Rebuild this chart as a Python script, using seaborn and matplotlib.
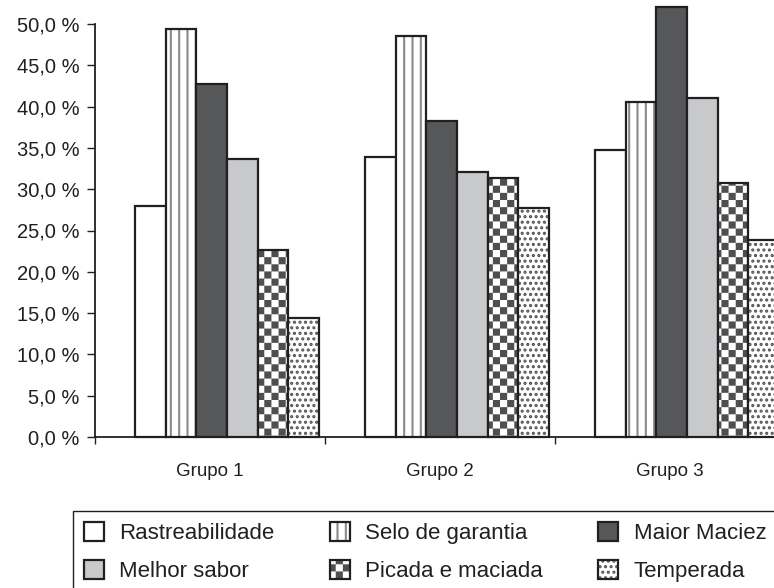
import warnings

import matplotlib
matplotlib.use("Agg")
import matplotlib as mpl
import matplotlib.pyplot as plt
import matplotlib.hatch as mhatch
from matplotlib.colors import to_rgba
from matplotlib.path import Path
from matplotlib.ticker import FixedLocator, FuncFormatter, NullFormatter
import pandas as pd
import seaborn as sns

# ---- data -------------------------------------------------------------
groups = ["Grupo 1", "Grupo 2", "Grupo 3"]
attributes = ["Rastreabilidade", "Selo de garantia", "Maior Maciez",
              "Melhor sabor", "Picada e maciada", "Temperada"]

rastreabilidade = [28.0, 33.9, 34.8]
selo_garantia = [49.4, 48.6, 40.5]
maior_maciez = [42.7, 38.3, 52.0]
melhor_sabor = [33.6, 32.1, 41.0]
picada_maciada = [22.6, 31.4, 30.7]
temperada = [14.4, 27.7, 23.8]

y_ticks = [0, 5, 10, 15, 20, 25, 30, 35, 40, 45, 50]

series = [rastreabilidade, selo_garantia, maior_maciez,
          melhor_sabor, picada_maciada, temperada]
df = pd.DataFrame({
    "grupo": [g for _ in attributes for g in groups],
    "atributo": [a for a in attributes for _ in groups],
    "valor": [v for s in series for v in s],
})

# ---- styling ----------------------------------------------------------
INK = "#231f20"
face_colors = ["#ffffff", "#ffffff", "#555759", "#c8c9cb", "#ffffff", "#ffffff"]
hatches = [None, "||", None, None, "c", "..."]
hatch_colors = [None, "#8a8a8a", None, None, "#4f4f51", "#555555"]

# bar clusters sit slightly right of the category centre
CLUSTER_SHIFT = 0.074


class CheckerHatch(mhatch.HatchPatternBase):
    """Axis-aligned checkerboard, selected with the letter 'c'."""
    cells = 14

    def __init__(self, hatch, density):
        self.active = "c" in hatch
        n = self.cells
        self.num_vertices = (n * n // 2) * 5 if self.active else 0

    def set_vertices_and_codes(self, vertices, codes):
        n = self.cells
        step = 1.0 / n
        inset = mpl.rcParams["hatch.linewidth"] / 144.0
        k = 0
        for i in range(n):
            for j in range(n):
                if (i + j) % 2:
                    continue
                x0, y0 = i * step + inset, j * step + inset
                x1, y1 = (i + 1) * step - inset, (j + 1) * step - inset
                vertices[k:k + 5] = [(x0, y0), (x1, y0), (x1, y1), (x0, y1), (x0, y0)]
                codes[k:k + 5] = [Path.MOVETO, Path.LINETO, Path.LINETO,
                                  Path.LINETO, Path.CLOSEPOLY]
                k += 5


mhatch._hatch_types.append(CheckerHatch)

sns.set_theme(style="white")
plt.rcParams["font.family"] = ["Liberation Sans", "DejaVu Sans"]
plt.rcParams["hatch.linewidth"] = 1.5
plt.rcParams["text.color"] = INK
plt.rcParams["xtick.color"] = INK
plt.rcParams["ytick.color"] = INK
plt.rcParams["axes.edgecolor"] = INK

fig = plt.figure(figsize=(7.74, 5.88), dpi=100)
ax = fig.add_axes([95 / 774, 151 / 588, 690 / 774, 413 / 588])

sns.barplot(data=df, x="grupo", y="valor", hue="atributo",
            order=groups, hue_order=attributes, palette=face_colors,
            saturation=1, width=0.8, edgecolor=INK, linewidth=1.6,
            legend=False, ax=ax)

with warnings.catch_warnings():
    warnings.simplefilter("ignore")
    for container, hatch, hcolor in zip(ax.containers, hatches, hatch_colors):
        for bar in container.patches:
            bar.set_clip_on(False)
            if hatch:
                bar.set_hatch(hatch)
                if hasattr(bar, "set_hatchcolor"):
                    bar.set_hatchcolor(hcolor)
                bar._hatch_color = to_rgba(hcolor)

ax.set_ylim(0, 50)
ax.set_xlim(-0.5 - CLUSTER_SHIFT, len(groups) - 0.5 - CLUSTER_SHIFT)
ax.set_xlabel("")
ax.set_ylabel("")
sns.despine(ax=ax)
for side in ("left", "bottom"):
    ax.spines[side].set_linewidth(1.3)
    ax.spines[side].set_color(INK)

ax.yaxis.set_major_locator(FixedLocator(y_ticks))
ax.yaxis.set_major_formatter(
    FuncFormatter(lambda v, _: f"{v:.1f}".replace(".", ",") + " %"))
ax.tick_params(axis="y", which="major", direction="out", length=6,
               width=1.0, pad=5, labelsize=14.5, left=True)

ax.set_xticks([i - CLUSTER_SHIFT for i in range(len(groups))])
ax.set_xticklabels(groups)
ax.xaxis.set_minor_locator(FixedLocator(
    [i - 0.5 - CLUSTER_SHIFT for i in range(len(groups) + 1)]))
ax.xaxis.set_minor_formatter(NullFormatter())
ax.tick_params(axis="x", which="major", length=0, pad=19, labelsize=13.5)
ax.tick_params(axis="x", which="minor", direction="out", length=5,
               width=1.0, bottom=True)

# legend, filled column by column so the rows read left to right
order = [0, 3, 1, 4, 2, 5]
with warnings.catch_warnings():
    warnings.simplefilter("ignore")
    leg = fig.legend(handles=[ax.containers[i] for i in order],
                     labels=[attributes[i] for i in order],
                     ncol=3, loc="upper left",
                     bbox_to_anchor=(73 / 774, 1 - 511 / 588),
                     fontsize=16, frameon=True, fancybox=False, shadow=False,
                     framealpha=1, edgecolor=INK, borderpad=0.5,
                     handlelength=0.9, handleheight=0.9, handletextpad=0.68,
                     columnspacing=2.5, labelspacing=0.74, borderaxespad=0)
leg.get_frame().set_linewidth(1.0)

fig.savefig("out.png", dpi=100)
